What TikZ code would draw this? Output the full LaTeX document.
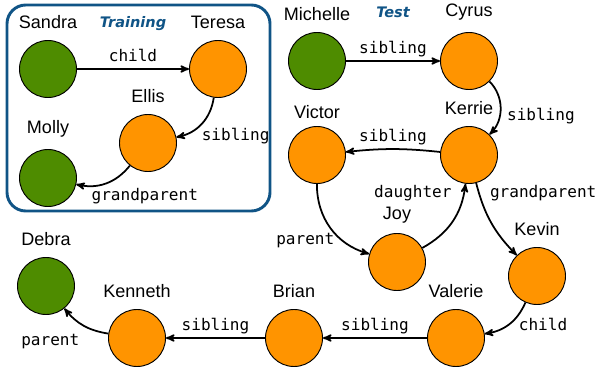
\documentclass[tikz,border=0pt]{standalone}
\usepackage{fontspec}
\setmainfont{Liberation Sans}
\setmonofont{DejaVu Sans Mono}
\newfontfamily\setfont{DejaVu Sans}
\usetikzlibrary{arrows}
\definecolor{kgGreen}{RGB}{78,140,0}
\definecolor{kgOrange}{RGB}{255,148,0}
\definecolor{kgBlue}{RGB}{16,84,134}
\tikzset{
  entity/.style = {circle, draw=black, line width=0.8pt, minimum size=1.71cm,
    inner sep=0pt},
  ent_g/.style = {entity, fill=kgGreen},% entity, green
  ent_o/.style = {entity, fill=kgOrange},% entity, orange
  rel/.style = {font=\fontsize{13.7}{14}\selectfont\ttfamily, inner sep=1pt,
    text height=0.75em, text depth=0.25em},
  setname/.style = {font=\setfont\fontsize{12.4}{13}\selectfont\bfseries\itshape,
    text=kgBlue, inner sep=0pt, anchor=base}
}

\begin{document}
\begin{tikzpicture}[x=0.03cm, y=-0.03cm, ->, >=stealth', line width=1.5pt,
  label distance=10pt,
  every label/.style={font=\fontsize{15.4}{16}\selectfont, inner sep=0pt, outer sep=0pt}]
  \useasboundingbox (0,0) rectangle (598,371);
  % training graph
  \draw[-, kgBlue, line width=2.5pt, rounded corners=16pt] (7,5) rectangle (270,211);
  \node[setname] (train) at (133,28) {Training};
  \node[ent_g, label=above:Sandra] (sandra) at (48,69) {};
  \node[ent_o, label=above:Teresa] (teresa) at (218,69) {};
  \node[ent_o, label=above:Ellis] (ellis) at (148,143) {};
  \node[ent_g, label=above:Molly] (molly) at (48,178) {};
  \draw (sandra) -- node[rel, above=2pt] {child} (teresa);
  \draw (teresa) to[bend left=35] node[rel, pos=0.55, anchor=north west, yshift=-3pt] {sibling} (ellis);
  \draw (ellis) to[bend left=32] node[rel, pos=0.5, anchor=north west, xshift=-14pt, yshift=-5pt] {grandparent} (molly);
  % test graph
  \node[setname] (test) at (393,18) {Test};
  \node[ent_g, label=above:Michelle] (michelle) at (317,61) {};
  \node[ent_o, label=above:Cyrus] (cyrus) at (469,61) {};
  \node[ent_o, label=above:Kerrie] (kerrie) at (469,155) {};
  \node[ent_o, label={[label distance=6pt]above:Victor}] (victor) at (317,155) {};
  \node[ent_o, label={[label distance=8pt]above:Joy}] (joy) at (397,262) {};
  \node[ent_o, label=above:Kevin] (kevin) at (537,276) {};
  \node[ent_o, label=above:Valerie] (valerie) at (456,338) {};
  \node[ent_o, label=above:Brian] (brian) at (294,338) {};
  \node[ent_o, label=above:Kenneth] (kenneth) at (137,338) {};
  \node[ent_g, label=above:Debra] (debra) at (46,286) {};
  \draw (michelle) -- node[rel, above=2pt] {sibling} (cyrus);
  \draw (cyrus) to[bend left=45] node[rel, pos=0.55, right=4pt, yshift=-6pt] {sibling} (kerrie);
  \draw (kerrie) to[bend right=6] node[rel, above=2pt] {sibling} (victor);
  \draw (victor) to[bend right=37] node[rel, pos=0.65, left=3pt, yshift=-3pt] {parent} (joy);
  \draw (joy) to[bend right=27] node[rel, pos=0.9, left=9pt, yshift=-2pt] {daughter} (kerrie);
  \draw (kerrie) to[bend right=15] node[rel, pos=0.1, right=8pt, yshift=-2pt] {grandparent} (kevin);
  \draw (kevin) to[bend left=29] node[rel, pos=0.3, anchor=north west, yshift=-2pt] {child} (valerie);
  \draw (valerie) -- node[rel, above=2pt] {sibling} (brian);
  \draw (brian) -- node[rel, above=2pt] {sibling} (kenneth);
  \draw (kenneth) to[bend left=21] node[rel, below left=2pt, yshift=-6pt] {parent} (debra);
\end{tikzpicture}
\end{document}
